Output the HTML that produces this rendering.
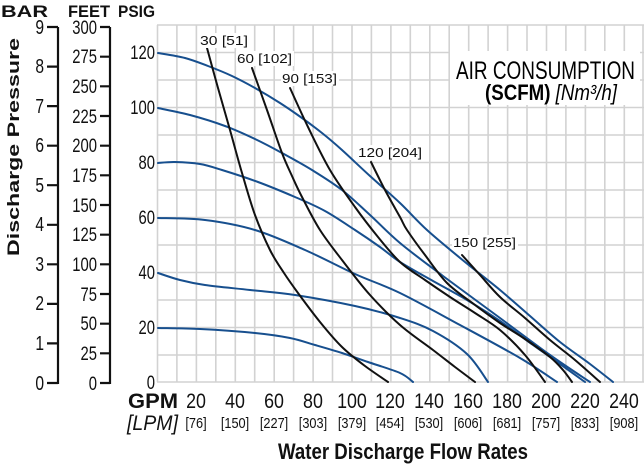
<!DOCTYPE html>
<html><head><meta charset="utf-8"><style>
html,body{margin:0;padding:0;background:#fff;}
svg{display:block;}
text{font-family:"Liberation Sans Narrow","Liberation Sans",sans-serif;}
</style></head><body>
<svg id="s" width="644" height="465" viewBox="0 0 644 465" xmlns="http://www.w3.org/2000/svg">
<g stroke="#d2d2d2" stroke-width="1.6" fill="none">
<path d="M157.5 25V382M176.9 25V382M196.4 25V382M215.8 25V382M235.3 25V382M254.7 25V382M274.2 25V382M293.6 25V382M313.1 25V382M332.5 25V382M352 25V382M371.4 25V382M390.9 25V382M410.3 25V382M429.8 25V382M449.2 25V382M468.7 25V382M488.1 25V382M507.6 25V382M527 25V382M546.5 25V382M565.9 25V382M585.4 25V382M604.8 25V382M624.3 25V382M643 25V382"/>
<path d="M157 25H644M157 52.5H644M157 80H644M157 107.5H644M157 135H644M157 162.5H644M157 190H644M157 217.5H644M157 245H644M157 272.5H644M157 300H644M157 327.5H644M157 355H644M157 382H644"/>
</g>
<rect x="450" y="51" width="190" height="54" fill="#fff"/>
<text x="456" y="79" font-size="25" textLength="179" lengthAdjust="spacingAndGlyphs">AIR CONSUMPTION</text>
<text x="485" y="100" font-size="22" textLength="132" lengthAdjust="spacingAndGlyphs"><tspan font-weight="bold">(SCFM)</tspan> <tspan font-style="italic">[Nm³/h]</tspan></text>
<g fill="none" stroke="#174f8e" stroke-width="2" stroke-linejoin="round" stroke-linecap="round">
<polyline class="c" points="158,53 185,58 208,66 232,76 255,88 280,103 302,118 322,133 342,150 370,176 400,203 427,230 465,262 500,290 530,316 560,342 590,364 613,382"/>
<polyline class="c" points="158,108 190,115 225,126 255,139 282,153 312,170 342,190 370,215 400,243 443,276 500,318 550,355 590,382"/>
<polyline class="c" points="158,163 175,162 200,164 222,170 258,182 295,197 325,211 355,230 380,247 400,262 433,281 467,300 500,321 533,345 560,364 585,382"/>
<polyline class="c" points="158,218 205,220 255,230 305,250 355,274 400,293 460,325 520,358 557,382"/>
<polyline class="c" points="158,273 180,280 205,285 250,290 295,295 355,306 400,318 433,331 467,354 488,382"/>
<polyline class="c" points="158,328 200,329 255,333 290,338 315,345 342,353 368,362 400,373 413,382"/>
</g>
<g fill="none" stroke="#111" stroke-width="2" stroke-linejoin="round" stroke-linecap="round">
<polyline class="c" points="207,48 218,88 230,130 242,173 255,215 270,250 284,273 298,293 320,322 342,347 365,366 388,382"/>
<polyline class="c" points="252,68 267,110 282,153 292,176 302,197 320,230 342,260 370,295 400,325 433,350 455,367 475,382"/>
<polyline class="c" points="290,88 308,127 330,170 355,207 378,237 400,262 425,280 450,297 475,313 500,330 525,355 545,382"/>
<polyline class="c" points="371,162 385,190 400,217 407,230 425,255 447,283 475,305 500,323 525,339 550,357 563,370 572,382"/>
<polyline class="c" points="462,255 480,275 500,297 525,318 550,340 575,360 600,382"/>
</g>
<g font-family="DejaVu Sans, sans-serif" font-size="13" fill="#111">
<rect x="199" y="33" width="51" height="15" fill="#fff"/><text x="200" y="45" textLength="48" lengthAdjust="spacingAndGlyphs">30 [51]</text>
<rect x="236" y="51" width="58" height="15" fill="#fff"/><text x="237" y="63" textLength="55" lengthAdjust="spacingAndGlyphs">60 [102]</text>
<rect x="281" y="71" width="58" height="15" fill="#fff"/><text x="282" y="83" textLength="55" lengthAdjust="spacingAndGlyphs">90 [153]</text>
<rect x="357" y="145" width="66" height="15" fill="#fff"/><text x="358" y="157" textLength="64" lengthAdjust="spacingAndGlyphs">120 [204]</text>
<rect x="452" y="235" width="66" height="15" fill="#fff"/><text x="453" y="247" textLength="63" lengthAdjust="spacingAndGlyphs">150 [255]</text>
</g>
<g stroke="#111" stroke-width="2.2" fill="none">
<path d="M58 27V384M47 27H58M47 66.6H58M47 106.1H58M47 145.7H58M47 185.2H58M47 224.8H58M47 264.3H58M47 303.9H58M47 343.4H58M47 383H58"/>
<path d="M110 27V384M100 27H110M100 56.7H110M100 86.3H110M100 116H110M100 145.7H110M100 175.3H110M100 205H110M100 234.7H110M100 264.3H110M100 294H110M100 323.7H110M100 353.3H110M100 383H110"/>
</g>
<g font-size="20" fill="#111" text-anchor="end" transform="translate(44,0) scale(0.78,1)">
<text x="0" y="34">9</text><text x="0" y="73">8</text><text x="0" y="113">7</text><text x="0" y="152">6</text><text x="0" y="192">5</text><text x="0" y="231">4</text><text x="0" y="271">3</text><text x="0" y="310">2</text><text x="0" y="350">1</text><text x="0" y="390">0</text>
</g>
<g font-size="19" fill="#111" text-anchor="end" transform="translate(97,0) scale(0.78,1)">
<text x="0" y="34">300</text><text x="0" y="63">275</text><text x="0" y="93">250</text><text x="0" y="123">225</text><text x="0" y="152">200</text><text x="0" y="182">175</text><text x="0" y="212">150</text><text x="0" y="241">125</text><text x="0" y="271">100</text><text x="0" y="301">75</text><text x="0" y="330">50</text><text x="0" y="360">25</text><text x="0" y="390">0</text>
</g>
<g font-size="19" fill="#111" text-anchor="end" transform="translate(155,0) scale(0.78,1)">
<text x="0" y="59">120</text><text x="0" y="114">100</text><text x="0" y="169">80</text><text x="0" y="224">60</text><text x="0" y="279">40</text><text x="0" y="334">20</text><text x="0" y="389">0</text>
</g>
<g font-size="17" font-weight="bold" fill="#111">
<text x="1" y="17" textLength="47" lengthAdjust="spacingAndGlyphs">BAR</text><text x="68" y="17" textLength="42" lengthAdjust="spacingAndGlyphs">FEET</text><text x="118" y="17" textLength="37" lengthAdjust="spacingAndGlyphs">PSIG</text>
</g>
<text transform="translate(19,147) rotate(-90)" font-size="17" font-weight="bold" text-anchor="middle" fill="#111" textLength="218" lengthAdjust="spacingAndGlyphs">Discharge Pressure</text>
<text x="128" y="408" font-size="21" font-weight="bold" fill="#111" textLength="50" lengthAdjust="spacingAndGlyphs">GPM</text>
<text x="127" y="430" font-size="21" font-style="italic" fill="#111" textLength="51" lengthAdjust="spacingAndGlyphs">[LPM]</text>
<g font-size="21" fill="#111" text-anchor="middle" transform="scale(0.85,1)">
<text x="230.6" y="408">20</text><text x="276.5" y="408">40</text><text x="322.4" y="408">60</text><text x="368.2" y="408">80</text><text x="414.1" y="408">100</text><text x="458.8" y="408">120</text><text x="504.7" y="408">140</text><text x="550.6" y="408">160</text><text x="596.5" y="408">180</text><text x="642.4" y="408">200</text><text x="688.2" y="408">220</text><text x="734.1" y="408">240</text>
</g>
<g font-size="15" fill="#111" text-anchor="middle" transform="scale(0.85,1)">
<text x="230.6" y="428">[76]</text><text x="276.5" y="428">[150]</text><text x="322.4" y="428">[227]</text><text x="368.2" y="428">[303]</text><text x="414.1" y="428">[379]</text><text x="458.8" y="428">[454]</text><text x="504.7" y="428">[530]</text><text x="550.6" y="428">[606]</text><text x="596.5" y="428">[681]</text><text x="642.4" y="428">[757]</text><text x="688.2" y="428">[833]</text><text x="734.1" y="428">[908]</text>
</g>
<text x="278" y="459" font-size="22" font-weight="bold" fill="#111" textLength="250" lengthAdjust="spacingAndGlyphs">Water Discharge Flow Rates</text>
</svg>
<script>
(function(){
var ns="http://www.w3.org/2000/svg";
document.querySelectorAll("polyline.c").forEach(function(pl){
var a=pl.getAttribute("points").trim().split(/\s+/).map(function(s){var q=s.split(",");return [+q[0],+q[1]];});
var d="M"+a[0][0]+" "+a[0][1];
for(var i=0;i<a.length-1;i++){
var p0=a[i-1]||a[i],p1=a[i],p2=a[i+1],p3=a[i+2]||a[i+1];
var c1=[p1[0]+(p2[0]-p0[0])/6,p1[1]+(p2[1]-p0[1])/6];
var c2=[p2[0]-(p3[0]-p1[0])/6,p2[1]-(p3[1]-p1[1])/6];
d+=" C"+c1[0].toFixed(1)+" "+c1[1].toFixed(1)+" "+c2[0].toFixed(1)+" "+c2[1].toFixed(1)+" "+p2[0]+" "+p2[1];
}
var p=document.createElementNS(ns,"path");p.setAttribute("d",d);
pl.parentNode.replaceChild(p,pl);
});
})();
</script>
</body></html>
